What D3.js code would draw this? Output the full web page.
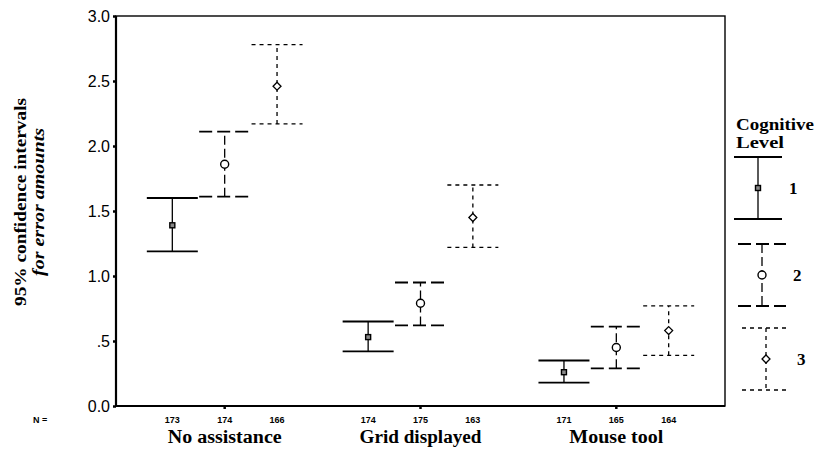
<!DOCTYPE html>
<html>
<head>
<meta charset="utf-8">
<script src="https://cdn.jsdelivr.net/npm/d3@7"></script>
<style>
  body { margin: 0; background: #fff; }
  svg { display: block; }
</style>
</head>
<body>
<svg id="chart" width="815" height="449"></svg>
<script>
// data
var groups = ["No assistance", "Grid displayed", "Mouse tool"];
var levels = ["1", "2", "3"];
var means = [[1.39, 1.86, 2.46], [0.53, 0.79, 1.45], [0.26, 0.45, 0.58]];
var lower = [[1.19, 1.61, 2.17], [0.42, 0.62, 1.22], [0.18, 0.29, 0.39]];
var upper = [[1.60, 2.11, 2.78], [0.65, 0.95, 1.70], [0.35, 0.61, 0.77]];
var counts = [[173, 174, 166], [174, 175, 163], [171, 165, 164]];
var yTicks = [0, 0.5, 1.0, 1.5, 2.0, 2.5, 3.0];
var yTickLabels = ["0.0", ".5", "1.0", "1.5", "2.0", "2.5", "3.0"];

var svg = d3.select("#chart");
var plotL = 116, plotR = 725, plotT = 16, plotB = 406;
var serif = "'Liberation Serif', 'Times New Roman', serif";

var y = d3.scaleLinear().domain([0, 3]).range([plotB, plotT]);
var xGroup = d3.scaleBand().domain(groups).range([plotL, plotR]).paddingInner(0).paddingOuter(0.055);
var xLevel = d3.scalePoint().domain(levels).range([0, xGroup.bandwidth()]).padding(0.87);

var dashes = { "1": null, "2": "13,5", "3": "4,4" };
var capW = 51;

// flatten into rows
var rows = [];
groups.forEach(function (g, gi) {
    levels.forEach(function (l, li) {
        rows.push({ g: g, l: l, m: means[gi][li], lo: lower[gi][li], hi: upper[gi][li], n: counts[gi][li] });
    });
});
function cx(d) { return xGroup(d.g) + xLevel(d.l); }

// frame
svg.append("rect").attr("x", plotL).attr("y", plotT).attr("width", plotR - plotL).attr("height", plotB - plotT)
    .attr("fill", "none").attr("stroke", "#000").attr("stroke-width", 1.4);
svg.append("line").attr("x1", plotL).attr("x2", plotL).attr("y1", plotT).attr("y2", plotB + 1)
    .attr("stroke", "#000").attr("stroke-width", 2.2);
svg.append("line").attr("x1", plotL).attr("x2", plotR).attr("y1", plotB).attr("y2", plotB)
    .attr("stroke", "#000").attr("stroke-width", 2.2);

// y axis
var yAxis = d3.axisLeft(y).tickValues(yTicks).tickSize(3).tickPadding(3)
    .tickFormat(function (d, i) { return yTickLabels[i]; });
var ya = svg.append("g").attr("transform", "translate(" + plotL + ",0)").call(yAxis);
ya.select(".domain").remove();
ya.selectAll(".tick line").attr("stroke-width", 2.5);
ya.selectAll("text").attr("font-family", "Arial, 'Liberation Sans', sans-serif")
    .attr("font-size", 16).attr("fill", "#000");

// y title
var yt = svg.append("text").attr("transform", "translate(26,202) rotate(-90)")
    .attr("text-anchor", "middle").attr("font-family", serif)
    .attr("font-weight", "bold").attr("font-size", 16);
yt.append("tspan").attr("x", 0).attr("dy", 0)
    .attr("textLength", 208).attr("lengthAdjust", "spacingAndGlyphs").text("95% confidence intervals");
yt.append("tspan").attr("x", 0).attr("dy", 18).attr("font-style", "italic")
    .attr("textLength", 148).attr("lengthAdjust", "spacingAndGlyphs").text("for error amounts");

// bottom ticks at group centers
svg.selectAll(".gtick").data(groups).enter().append("line")
    .attr("x1", function (g) { return xGroup(g) + xGroup.bandwidth() / 2; })
    .attr("x2", function (g) { return xGroup(g) + xGroup.bandwidth() / 2; })
    .attr("y1", plotB).attr("y2", plotB + 3).attr("stroke", "#000").attr("stroke-width", 2.5);

// error bars
var bars = svg.selectAll(".bar").data(rows).enter().append("g").attr("class", "bar");
bars.append("line").attr("x1", cx).attr("x2", cx)
    .attr("y1", function (d) { return y(d.lo); }).attr("y2", function (d) { return y(d.hi); })
    .attr("stroke", "#000").attr("stroke-width", 1.3)
    .attr("stroke-dasharray", function (d) { return d.l === "2" ? "9,4" : dashes[d.l]; });
["lo", "hi"].forEach(function (k) {
    bars.append("line")
        .attr("x1", function (d) { return cx(d) - capW / 2; })
        .attr("x2", function (d) { return cx(d) + capW / 2; })
        .attr("y1", function (d) { return y(d[k]); }).attr("y2", function (d) { return y(d[k]); })
        .attr("stroke", "#000").attr("stroke-width", function (d) { return d.l === "3" ? 1.3 : 1.8; })
        .attr("stroke-dasharray", function (d) { return dashes[d.l]; });
});

function drawMarker(sel, l, px, py) {
    if (l === "1") {
        sel.append("rect").attr("x", px - 2.5).attr("y", py - 2.5).attr("width", 5).attr("height", 5)
            .attr("fill", "#888").attr("stroke", "#000").attr("stroke-width", 1.4);
    } else if (l === "2") {
        sel.append("circle").attr("cx", px).attr("cy", py).attr("r", 4)
            .attr("fill", "#fff").attr("stroke", "#000").attr("stroke-width", 1.4);
    } else {
        sel.append("path").attr("d", d3.symbol().type(d3.symbolDiamond2).size(40)())
            .attr("transform", "translate(" + px + "," + py + ")")
            .attr("fill", "#fff").attr("stroke", "#000").attr("stroke-width", 1.3);
    }
}
bars.each(function (d) { drawMarker(d3.select(this), d.l, cx(d), y(d.m)); });

// counts
svg.append("text").attr("x", 33).attr("y", 423).attr("font-family", "Arial, sans-serif")
    .attr("font-weight", "bold").attr("font-size", 9).text("N =");
svg.selectAll(".cnt").data(rows).enter().append("text")
    .attr("x", cx).attr("y", 423).attr("text-anchor", "middle")
    .attr("font-family", "Arial, sans-serif").attr("font-weight", "bold").attr("font-size", 9)
    .text(function (d) { return d.n; });

// group labels
var groupW = [114, 122, 94];
svg.selectAll(".glab").data(groups).enter().append("text")
    .attr("x", function (g) { return xGroup(g) + xGroup.bandwidth() / 2; })
    .attr("y", 443).attr("text-anchor", "middle")
    .attr("font-family", serif).attr("font-weight", "bold").attr("font-size", 18)
    .attr("textLength", function (g, i) { return groupW[i]; }).attr("lengthAdjust", "spacingAndGlyphs")
    .text(function (g) { return g; });

// legend
var lg = svg.append("g");
lg.append("text").attr("x", 736).attr("y", 130).attr("font-family", serif)
    .attr("font-weight", "bold").attr("font-size", 16)
    .attr("textLength", 78).attr("lengthAdjust", "spacingAndGlyphs").text("Cognitive");
lg.append("text").attr("x", 736).attr("y", 148).attr("font-family", serif)
    .attr("font-weight", "bold").attr("font-size", 16)
    .attr("textLength", 48).attr("lengthAdjust", "spacingAndGlyphs").text("Level");

var legY = d3.scaleLinear().domain([0, 1]).range([0, 62]);
var legItems = [{ l: "1", x: 758, top: 157 }, { l: "2", x: 762, top: 244 }, { l: "3", x: 766, top: 328 }];
legItems.forEach(function (it) {
    var g = lg.append("g");
    g.append("line").attr("x1", it.x).attr("x2", it.x).attr("y1", it.top).attr("y2", it.top + legY(1))
        .attr("stroke", "#000").attr("stroke-width", 1.3)
        .attr("stroke-dasharray", it.l === "2" ? "9,4" : dashes[it.l]);
    [0, 1].forEach(function (v) {
        g.append("line").attr("x1", it.x - 24).attr("x2", it.x + 24)
            .attr("y1", it.top + legY(v)).attr("y2", it.top + legY(v))
            .attr("stroke", "#000").attr("stroke-width", it.l === "3" ? 1.3 : 1.8)
            .attr("stroke-dasharray", dashes[it.l]);
    });
    drawMarker(g, it.l, it.x, it.top + legY(0.5));
    g.append("text").attr("x", it.x + 31).attr("y", it.top + legY(0.5)).attr("dy", "0.35em")
        .attr("font-family", serif).attr("font-weight", "bold").attr("font-size", 17)
        .text(it.l);
});
</script>
</body>
</html>
